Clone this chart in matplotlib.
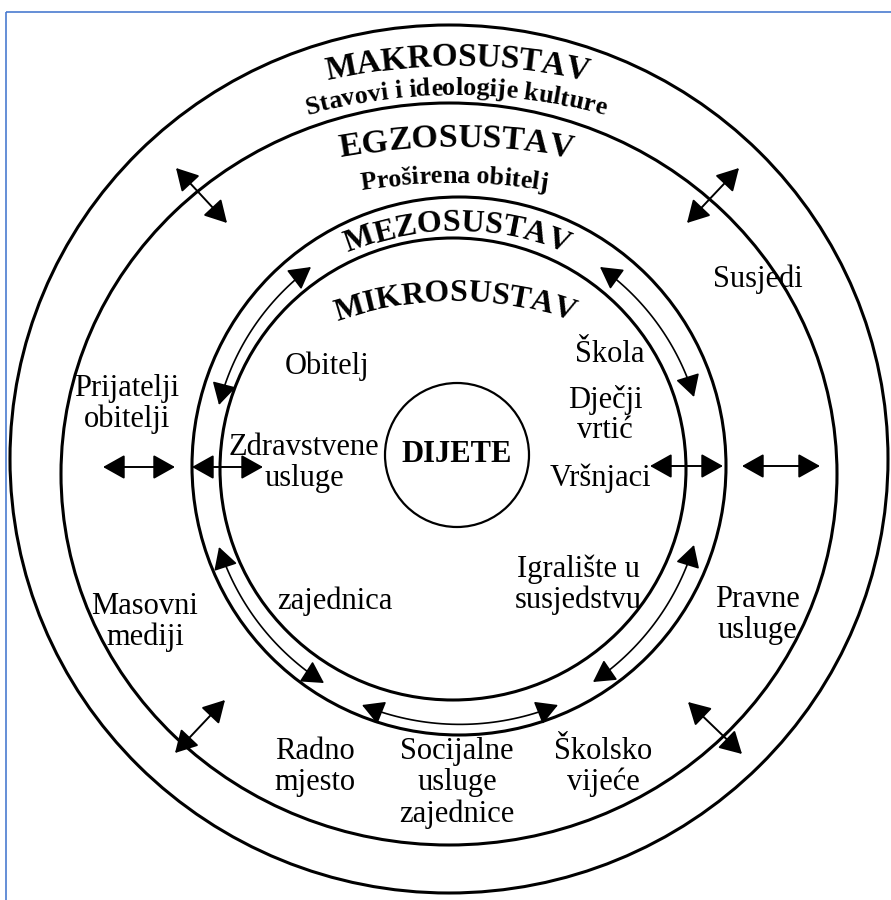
import numpy as np
import matplotlib
matplotlib.use("Agg")
import matplotlib.pyplot as plt
from matplotlib.patches import Ellipse, Rectangle, FancyArrowPatch
from matplotlib.path import Path

# ring outlines: centre x, centre y, half width, half height (pixels, y down)
rings = [
    (449, 459, 439, 434),   # makrosustav
    (449, 474, 388, 371),   # egzosustav
    (459, 466, 267, 269),   # mezosustav (outer edge)
    (453, 469, 233, 231),   # mikrosustav
]
child_circle = (457, 455, 72)

# curved headings: text, centre x, baseline apex y, arc radius, target width, bold
arc_labels = [
    ("MAKROSUSTAV", 457, 66, 600, 262, True),
    ("Stavovi i ideologije kulture", 456, 95, 560, 300, True),
    ("EGZOSUSTAV", 456, 147, 650, 232, True),
    ("Proširena obitelj", 454, 183, 600, 186, True),
    ("MEZOSUSTAV", 457, 231, 285, 224, True),
    ("MIKROSUSTAV", 455, 301, 360, 240, True),
]

# plain labels: text, x, y
labels = [
    ("Obitelj", 327, 366),
    ("Škola", 610, 355),
    ("Dječji\nvrtić", 605, 415),
    ("Zdravstvene\nusluge", 304, 463),
    ("Vršnjaci", 600, 478),
    ("Prijatelji\nobitelji", 127, 404),
    ("Susjedi", 758, 279),
    ("Masovni\nmediji", 145, 622),
    ("zajednica", 335, 601),
    ("Igralište u\nsusjedstvu", 578, 585),
    ("Pravne\nusluge", 757, 615),
    ("Radno\nmjesto", 315, 767),
    ("Socijalne\nusluge\nzajednice", 457, 783),
    ("Školsko\nvijeće", 603, 767),
]

# straight double arrows: (x1, y1, x2, y2)
straight_arrows = [
    (103, 467, 175, 467),
    (192, 467, 263, 467),
    (650, 466, 723, 466),
    (742, 466, 820, 466),
    (176, 168, 227, 223),
    (739, 168, 687, 223),
    (225, 700, 175, 753),
    (688, 702, 742, 754),
]

# curved double arrows inside the mezo ring: (x1, y1, x2, y2)
ring_centre = (456, 467)
curved_arrows = [
    (311, 267, 219, 405),
    (600, 267, 694, 397),
    (219, 547, 324, 683),
    (694, 545, 593, 682),
    (362, 705, 558, 705),
]

W, H = 891, 900
fig = plt.figure(figsize=(W / 100, H / 100), dpi=100)
ax = fig.add_axes([0, 0, 1, 1])
ax.set_xlim(0, W)
ax.set_ylim(H, 0)
ax.axis("off")

ax.add_patch(Rectangle((6, 12), 1000, 1000, fill=False, ec="#4a7bd0", lw=1.2))

for cx, cy, rx, ry in rings:
    ax.add_patch(Ellipse((cx, cy), 2 * rx, 2 * ry, fill=False, ec="black", lw=2.2))
ax.add_patch(Ellipse(child_circle[:2], 2 * child_circle[2], 2 * child_circle[2],
                     fill=False, ec="black", lw=1.6))

serif = "Liberation Serif"
renderer = fig.canvas.get_renderer()


def char_widths(s, size, weight):
    def w(txt):
        t = ax.text(0, 0, txt, fontsize=size, family=serif, weight=weight)
        bb = t.get_window_extent(renderer)
        t.remove()
        return bb.width
    base = w("||")
    return np.array([w("|" + ch + "|") - base for ch in s])


def arc_text(s, cx, apex, R, width, bold):
    weight = "bold" if bold else "normal"
    ws = char_widths(s, 20, weight)
    size = 20 * width / ws.sum()
    ws = ws * width / ws.sum()
    pos = np.cumsum(ws) - ws / 2 - width / 2
    for ch, p in zip(s, pos):
        th = p / R
        x = cx + R * np.sin(th)
        y = apex + R - R * np.cos(th)
        ax.text(x, y, ch, fontsize=size, family=serif, weight=weight,
                ha="center", va="baseline", rotation=-np.degrees(th),
                rotation_mode="anchor")


for item in arc_labels:
    arc_text(*item)

ax.text(*child_circle[:2], "DIJETE", fontsize=22, family=serif, weight="bold",
        ha="center", va="center")

for txt, x, y in labels:
    ax.text(x, y, txt, fontsize=22, family=serif, ha="center", va="center",
            multialignment="center", linespacing=1.08)

head = "<|-|>,head_length=0.75,head_width=0.42"
for x1, y1, x2, y2 in straight_arrows:
    ax.add_patch(FancyArrowPatch((x1, y1), (x2, y2), arrowstyle=head,
                                 mutation_scale=18, lw=1.4, color="black",
                                 shrinkA=0, shrinkB=0))

ccx, ccy = ring_centre
for x1, y1, x2, y2 in curved_arrows:
    a1 = np.arctan2(y1 - ccy, x1 - ccx)
    a2 = np.arctan2(y2 - ccy, x2 - ccx)
    r1 = np.hypot(x1 - ccx, y1 - ccy)
    r2 = np.hypot(x2 - ccx, y2 - ccy)
    da = (a2 - a1 + np.pi) % (2 * np.pi) - np.pi
    t = np.linspace(0, 1, 40)
    ang = a1 + da * t
    rad = r1 + (r2 - r1) * t
    verts = np.column_stack([ccx + rad * np.cos(ang), ccy + rad * np.sin(ang)])
    ax.add_patch(FancyArrowPatch(path=Path(verts), arrowstyle=head,
                                 mutation_scale=18, lw=1.2, color="black"))

fig.savefig("out.png", dpi=100, facecolor="white")
